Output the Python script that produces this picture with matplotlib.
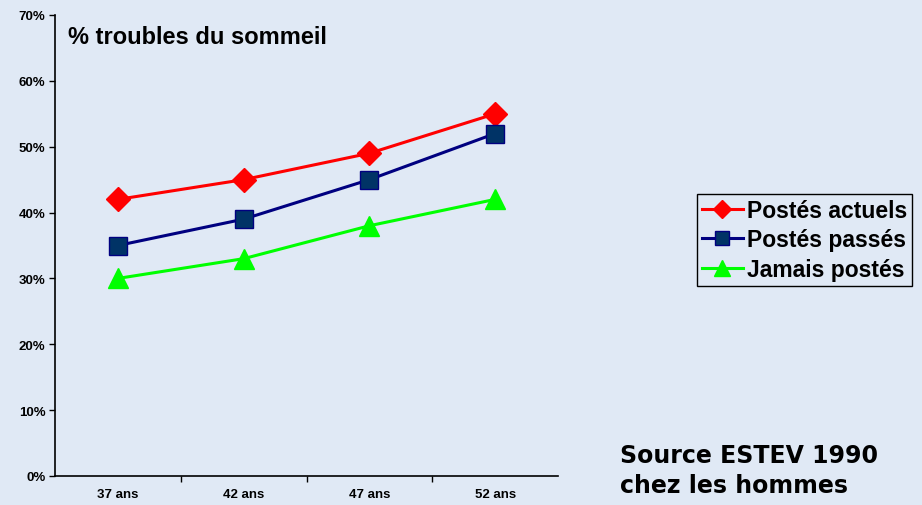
import matplotlib
matplotlib.use("Agg")
import matplotlib.pyplot as plt
from matplotlib.ticker import FixedLocator, PercentFormatter

categories = ["37 ans", "42 ans", "47 ans", "52 ans"]
postes_actuels = [42, 45, 49, 55]
postes_passes = [35, 39, 45, 52]
jamais_postes = [30, 33, 38, 42]
series_names = ["Postés actuels", "Postés passés", "Jamais postés"]
source_lines = ["Source ESTEV 1990", "chez les hommes"]

bg = "#E0E9F5"
plt.rcParams['font.family'] = ['Liberation Sans', 'DejaVu Sans']

fig = plt.figure(figsize=(9.22, 5.06), dpi=100, facecolor=bg)
ax = fig.add_axes([55/922, 29/506, (558-55)/922, (477-16)/506])
ax.set_facecolor(bg)

x = list(range(len(categories)))
ax.plot(x, postes_actuels, color="#FF0000", lw=2.2, marker="D", ms=12,
        mfc="#FF0000", mec="#FF0000", label=series_names[0], zorder=3)
ax.plot(x, postes_passes, color="#000080", lw=2.2, marker="s", ms=13,
        mfc="#003366", mec="#000080", mew=1, label=series_names[1], zorder=3)
ax.plot(x, jamais_postes, color="#00FF00", lw=2.2, marker="^", ms=15,
        mfc="#00FF00", mec="#00FF00", label=series_names[2], zorder=3)

ax.set_xlim(-0.5, 3.5)
ax.set_ylim(0, 70)
ax.set_yticks(range(0, 71, 10))
ax.yaxis.set_major_formatter(PercentFormatter(decimals=0))
ax.set_xticks(x)
ax.set_xticklabels(categories)
ax.xaxis.set_minor_locator(FixedLocator([0.5, 1.5, 2.5]))
ax.tick_params(axis='x', which='major', length=0, pad=9)
ax.tick_params(axis='x', which='minor', length=4, width=1, direction='out')
ax.tick_params(axis='y', length=4, width=1, direction='out', pad=3)
for lbl in ax.get_xticklabels():
    lbl.set_fontsize(9.5)
    lbl.set_fontweight('bold')
for lbl in ax.get_yticklabels():
    lbl.set_fontsize(9.5)
    lbl.set_fontweight('bold')

ax.spines['top'].set_visible(False)
ax.spines['right'].set_visible(False)
ax.spines['left'].set_linewidth(1.2)
ax.spines['bottom'].set_linewidth(1.2)

fig.text(68/922, 1-37/506, "% troubles du sommeil",
         fontsize=17, fontweight='bold', va='center', ha='left')

leg = fig.legend(loc='upper left', bbox_to_anchor=(697/922, 1-195/506),
                 frameon=True, fancybox=False, edgecolor='black',
                 facecolor=bg, framealpha=1, borderpad=0.2, labelspacing=0.3,
                 handlelength=1.8, handletextpad=0.2, borderaxespad=0,
                 prop={'size': 16.5, 'weight': 'bold'}, markerscale=0.8)
leg.get_frame().set_linewidth(1.0)

for i, line in enumerate(source_lines):
    fig.text(620/922, 1-(463 + 30*i)/506, line,
             fontsize=17, fontweight='bold', va='baseline', ha='left',
             family=['DejaVu Sans'])

fig.savefig("out.png", dpi=100, facecolor=bg)
